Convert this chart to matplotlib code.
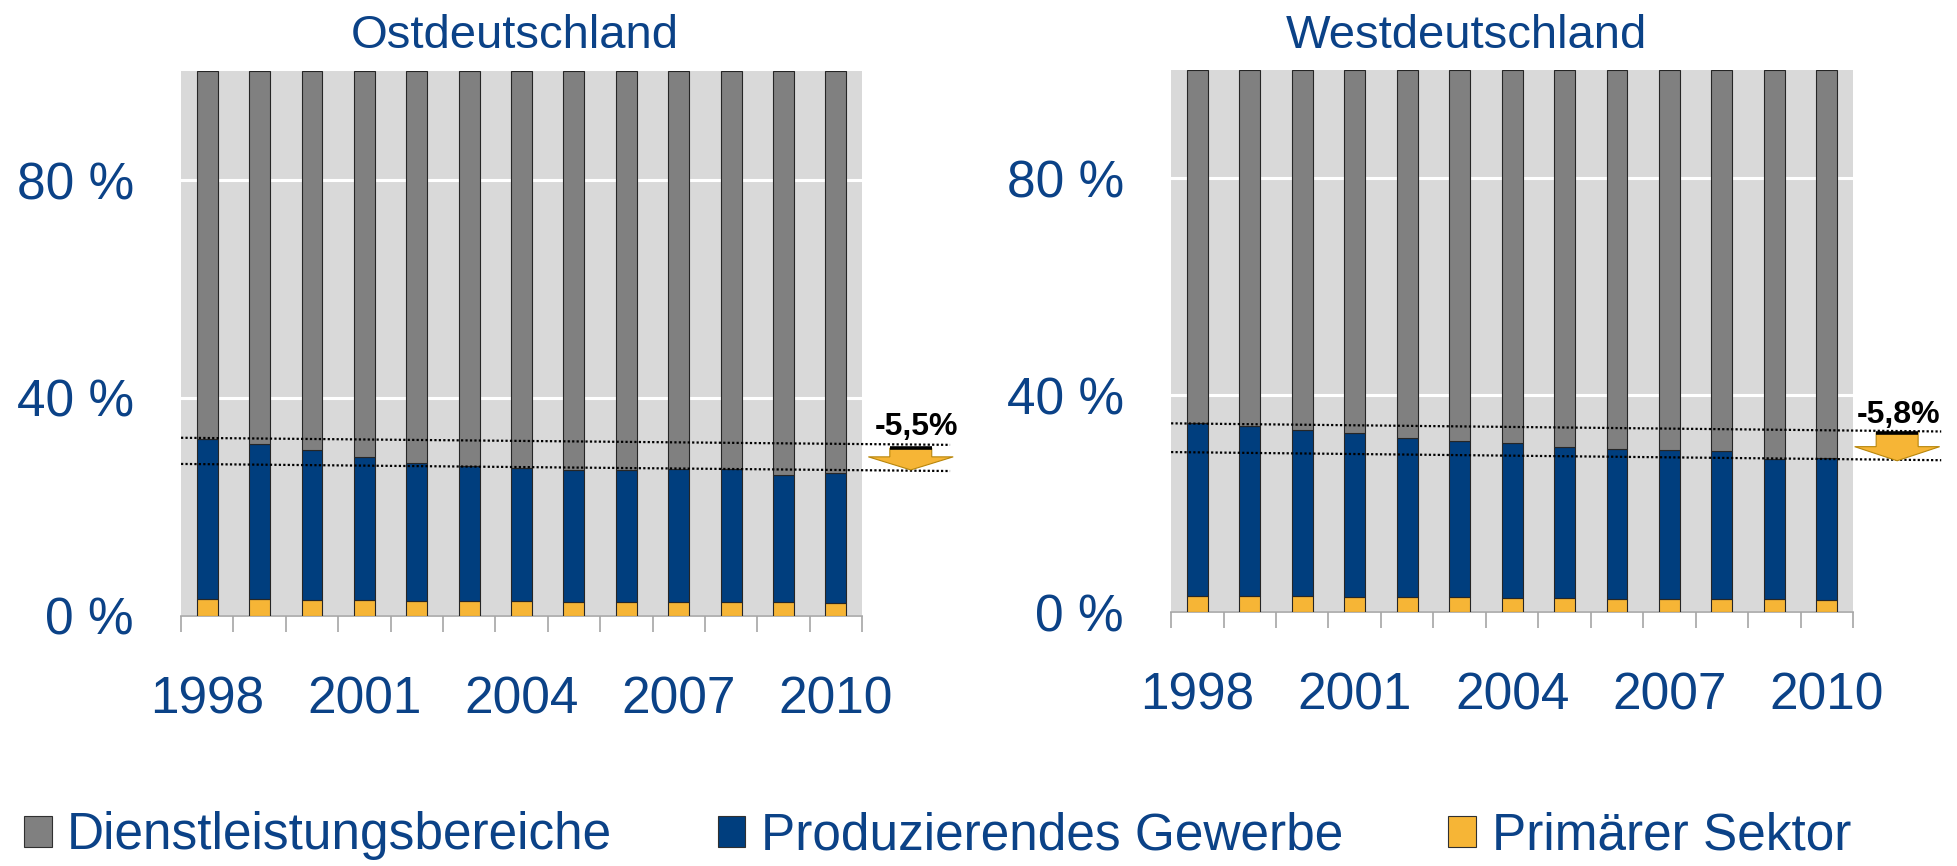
import numpy as np
import matplotlib
matplotlib.use("Agg")
import matplotlib.pyplot as plt
from matplotlib.patches import Polygon, Patch

plt.rcParams["font.family"] = ["Liberation Sans", "DejaVu Sans"]

years = list(range(1998, 2011))
year_labels = ["1998", "2001", "2004", "2007", "2010"]

# Anteile in % (Ost)
ost_primaer = [3.2, 3.1, 3.0, 2.9, 2.8, 2.7, 2.7, 2.6, 2.5, 2.5, 2.5, 2.5, 2.4]
ost_produz = [29.2, 28.4, 27.4, 26.2, 25.3, 24.8, 24.5, 24.1, 24.2, 24.5, 24.5, 23.4, 23.8]
ost_dienst = [67.6, 68.5, 69.6, 70.9, 71.9, 72.5, 72.8, 73.3, 73.3, 73.0, 73.0, 74.1, 73.8]

# Anteile in % (West)
west_primaer = [2.9, 2.9, 2.9, 2.8, 2.8, 2.7, 2.6, 2.5, 2.4, 2.4, 2.4, 2.4, 2.3]
west_produz = [32.0, 31.4, 30.6, 30.2, 29.3, 28.9, 28.5, 28.0, 27.7, 27.4, 27.3, 25.8, 26.1]
west_dienst = [65.1, 65.7, 66.5, 67.0, 67.9, 68.4, 68.9, 69.5, 69.9, 70.2, 70.3, 71.8, 71.6]

# gepunktete Trendlinien (Start, Ende) und Veränderung
ost_upper = [32.7, 31.4]
ost_lower = [27.9, 26.6]
ost_change = "-5,5%"
west_upper = [34.8, 33.3]
west_lower = [29.5, 28.0]
west_change = "-5,8%"

C_DIENST = "#808080"
C_PRODUZ = "#003E7E"
C_PRIMAER = "#F6B536"
C_BG = "#D9D9D9"
C_TEXT = "#0B4287"
C_AXIS = "#A6A6A6"

fig = plt.figure(figsize=(19.57, 8.66), dpi=100)
ax_ost = fig.add_axes([0.0925, 0.2887, 0.348, 0.6293])
ax_west = fig.add_axes([0.5984, 0.2933, 0.3485, 0.626])


def draw_panel(ax, primaer, produz, dienst, upper, lower, change,
               arrow_x, arrow_top, arrow_head, arrow_tip, text_x, text_y):
    x = np.arange(len(years))
    p = np.array(primaer)
    q = np.array(produz)
    d = np.array(dienst)
    kw = dict(width=0.4, edgecolor="#262626", linewidth=0.8, zorder=3)
    ax.bar(x, p, color=C_PRIMAER, **kw)
    ax.bar(x, q, bottom=p, color=C_PRODUZ, **kw)
    ax.bar(x, d, bottom=p + q, color=C_DIENST, **kw)

    ax.set_facecolor(C_BG)
    ax.set_xlim(-0.5, 12.5)
    ax.set_ylim(0, 100)
    ax.set_yticks([0, 40, 80])
    ax.set_yticklabels(["0 %", "40 %", "80 %"])
    ax.grid(axis="y", color="white", linewidth=2.2, zorder=1)
    ax.set_axisbelow(True)

    ax.set_xticks([years.index(int(y)) for y in year_labels])
    ax.set_xticklabels(year_labels)
    ax.set_xticks(np.arange(-0.5, 13, 1), minor=True)
    ax.tick_params(axis="x", which="major", length=0, pad=43,
                   labelsize=37, labelcolor=C_TEXT)
    ax.tick_params(axis="x", which="minor", length=11.5, width=1.2,
                   color=C_AXIS, direction="out")
    ax.tick_params(axis="y", length=0, pad=34, labelsize=37, labelcolor=C_TEXT)

    for s in ["top", "left", "right"]:
        ax.spines[s].set_visible(False)
    ax.spines["bottom"].set_color(C_AXIS)
    ax.spines["bottom"].set_linewidth(1.2)

    # Trendlinien über den Rand hinaus
    for line in (upper, lower):
        ax.plot([-0.5, 14.18], line, color="black", linestyle=(0, (1, 1)),
                linewidth=1.6, zorder=4, clip_on=False)

    # Pfeil nach unten
    sw, hw = 0.40, 0.81
    pts = [(arrow_x - sw, arrow_top), (arrow_x + sw, arrow_top),
           (arrow_x + sw, arrow_head), (arrow_x + hw, arrow_head),
           (arrow_x, arrow_tip), (arrow_x - hw, arrow_head),
           (arrow_x - sw, arrow_head)]
    ax.add_patch(Polygon(pts, closed=True, facecolor=C_PRIMAER,
                         edgecolor="#B8860B", linewidth=0.8,
                         zorder=5, clip_on=False))
    ax.plot([arrow_x - sw, arrow_x + sw], [arrow_top, arrow_top],
            color="black", linewidth=2.6, solid_capstyle="butt",
            zorder=6, clip_on=False)

    ax.text(text_x, text_y, change, ha="center", va="baseline",
            fontsize=23, fontweight="bold", color="black", clip_on=False)


draw_panel(ax_ost, ost_primaer, ost_produz, ost_dienst, ost_upper, ost_lower,
           ost_change, 13.43, 30.8, 29.2, 26.8, 13.53, 33.2)
draw_panel(ax_west, west_primaer, west_produz, west_dienst, west_upper, west_lower,
           west_change, 13.34, 33.1, 30.5, 27.9, 13.36, 34.9)

fig.text(515 / 1957, 1 - 48 / 866, "Ostdeutschland", ha="center",
         va="baseline", fontsize=34, color=C_TEXT)
fig.text(1466 / 1957, 1 - 48 / 866, "Westdeutschland", ha="center",
         va="baseline", fontsize=34, color=C_TEXT)

handles = [Patch(facecolor=C_DIENST, edgecolor="#303030", linewidth=0.8),
           Patch(facecolor=C_PRODUZ, edgecolor="#303030", linewidth=0.8),
           Patch(facecolor=C_PRIMAER, edgecolor="#303030", linewidth=0.8)]
labels = ["Dienstleistungsbereiche", "Produzierendes Gewerbe", "Primärer Sektor"]
leg = fig.legend(handles, labels, loc="center left",
                 bbox_to_anchor=(24 / 1957, 1 - 836 / 866), ncol=3,
                 frameon=False, fontsize=37, borderpad=0, borderaxespad=0,
                 handlelength=0.54, handleheight=0.54, handletextpad=0.3,
                 columnspacing=2.05)
for t in leg.get_texts():
    t.set_color(C_TEXT)

fig.savefig("out.png", dpi=100)
